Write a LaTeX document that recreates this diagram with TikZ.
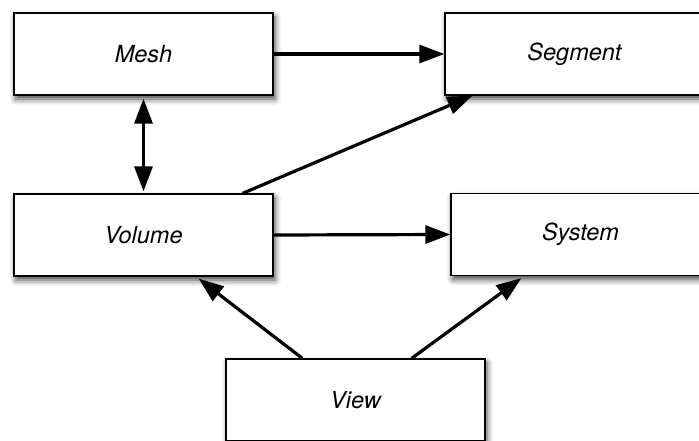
\documentclass[tikz,border=0pt]{standalone}
\usepackage{fontspec}
\setmainfont{TeX Gyre Heros}
\usetikzlibrary{arrows.meta,shadows.blur}
\tikzset{
  box/.style={draw=black, line width=1.3pt, fill=white, minimum width=259pt, minimum height=82pt,
    inner sep=0pt, font=\fontsize{23.5}{28}\selectfont\itshape,
    blur shadow={shadow xshift=2pt, shadow yshift=-4pt, shadow blur radius=6pt, shadow opacity=75}},
  conn/.style={line width=3.2pt, -{Triangle[length=25pt,width=18pt]}},
  dconn/.style={line width=3.2pt, {Triangle[length=25pt,width=18pt]}-{Triangle[length=25pt,width=18pt]}}
}
\begin{document}
\begin{tikzpicture}[x=1pt,y=-1pt]
\useasboundingbox (0,0) rectangle (699,441);
\clip (0,0) rectangle (699,441);
\node[box] (mesh) at (143.5,54) {Mesh};
\node[box] (seg) at (574.5,54) {Segment};
\node[box] (vol) at (143.5,235) {Volume};
\node[box] (sys) at (580.5,234.5) {System};
\node[box] (view) at (355.5,400) {View};
\draw[conn] (mesh.east) -- (seg.west);
\draw[dconn] ([yshift=-3pt]mesh.south) -- ([yshift=2pt]vol.north);
\draw[conn] ([xshift=-31pt]vol.north east) -- ([xshift=28pt]seg.south west);
\draw[conn] (vol.east) -- (sys.west);
\draw[conn] ([xshift=77pt]view.north west) -- ([xshift=-75pt,yshift=-2pt]vol.south east);
\draw[conn] ([xshift=-74pt]view.north east) -- ([xshift=71pt,yshift=-2pt]sys.south west);
\end{tikzpicture}
\end{document}
